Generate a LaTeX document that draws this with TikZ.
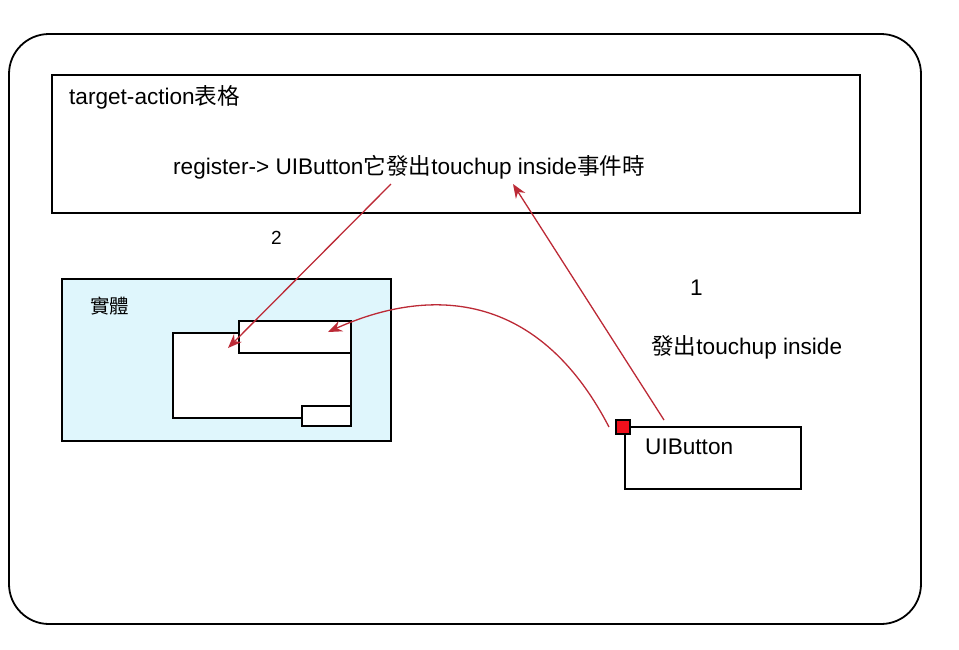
\documentclass[tikz,border=0pt]{standalone}
\usepackage{fontspec}
\setmainfont{Liberation Sans}
\newfontfamily\cjk{Noto Sans CJK TC}
\usetikzlibrary{arrows.meta,positioning,calc}
\definecolor{linkred}{HTML}{BC2A36}
\definecolor{entcyan}{HTML}{DFF6FC}
\definecolor{portred}{HTML}{F0101C}
\tikzset{
  box/.style   = {draw, line width=1.6pt, fill=white, anchor=north west,
                  inner sep=0pt, outer sep=0pt},
  frame/.style = {draw, line width=1.8pt, rounded corners=40pt},
  sig/.style   = {-{Stealth[length=14pt, width=11pt]}, linkred, line width=1.3pt},
  lbl/.style   = {anchor=west, inner sep=0pt, font=\fontsize{22.6}{27}\selectfont},
}

\begin{document}
\begin{tikzpicture}[x=1pt, y=-1pt]
  \useasboundingbox (0,0) rectangle (959,649);
  \draw[frame] (9,34) rectangle (921,624);
  \node[box, minimum width=808pt, minimum height=138pt] (table) at (52,75) {};
  \node[lbl] (title) at (69,97) {target-action{\cjk 表格}};
  \node[lbl] (reg) at (173,167) {register-> UIButton{\cjk 它發出}touchup inside{\cjk 事件時}};
  \node[box, fill=entcyan, minimum width=329pt, minimum height=162pt] (ent) at (62,279) {};
  \node[lbl, font=\cjk\fontsize{19.5}{22}\selectfont] (entname) at (90,306) {實體};
  \foreach \n/\x/\y/\w/\h in {body/173/333/178/85, toptab/239/321/112/32, bottab/302/406/49/20}
    \node[box, minimum width=\w pt, minimum height=\h pt] (\n) at (\x,\y) {};
  \node[box, minimum width=176pt, minimum height=62pt] (btn) at (625,427) {};
  \node[lbl] (btnname) at (645,447) {UIButton};
  \node[draw, line width=1.3pt, fill=portred, minimum size=14pt, inner sep=0pt] (port) at (623,427) {};
  \node[lbl] (one) at (690,288) {1};
  \node[lbl] (ev) at (651,347) {{\cjk 發出}touchup inside};
  \node[lbl, font=\fontsize{19}{22}\selectfont] (two) at (271,238) {2};
  % connectors
  \coordinate (regout) at (391,184);
  \coordinate (bodyin) at (228,348);
  \coordinate (btnout) at (664,420);
  \coordinate (regin) at (513,184);
  \coordinate (portout) at (609,427);
  \coordinate (tabin) at (328,332);
  \draw[sig] (regout) -- (bodyin);
  \draw[sig] (btnout) -- (regin);
  \draw[sig] (portout) .. controls (530,275) and (410,295) .. (tabin);
\end{tikzpicture}
\end{document}
